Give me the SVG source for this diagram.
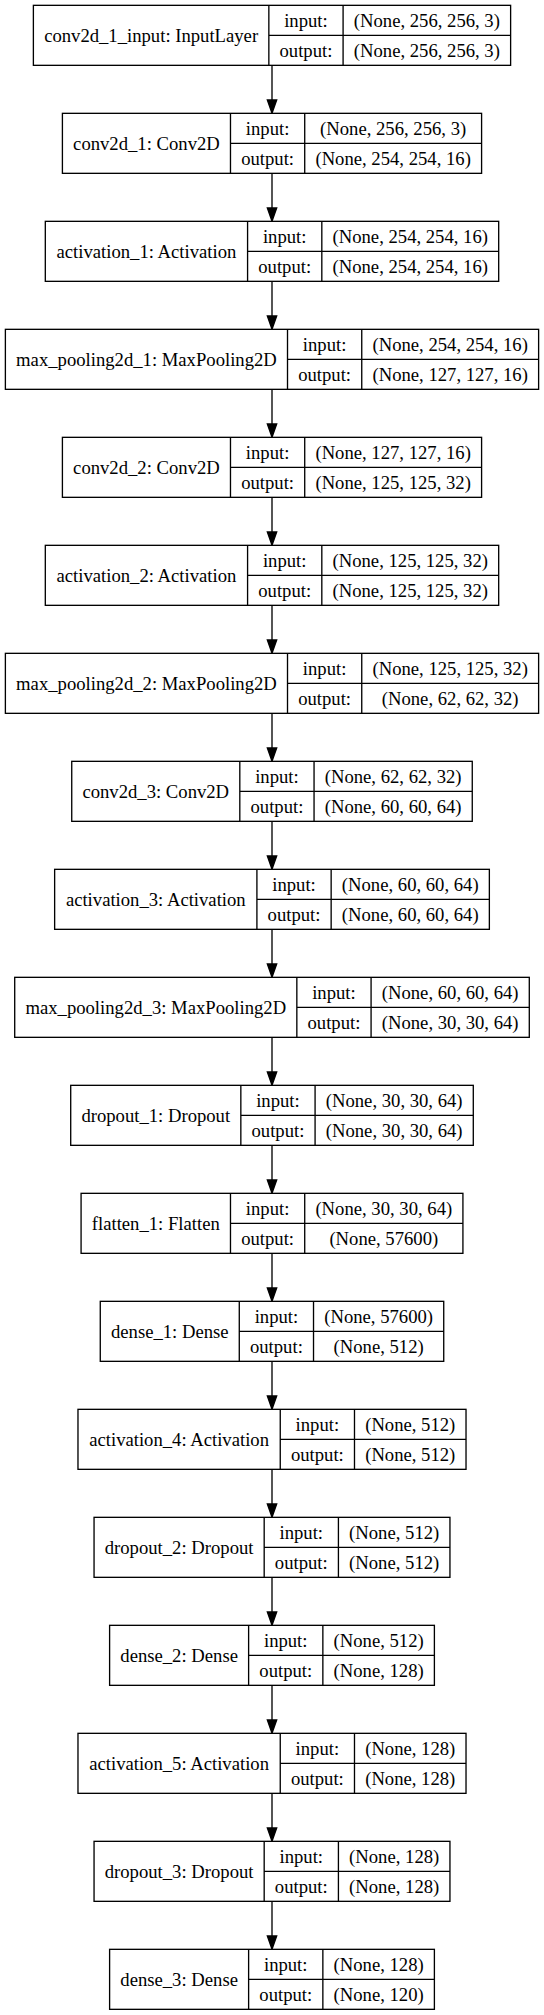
<svg xmlns="http://www.w3.org/2000/svg" width="544" height="2015" viewBox="0 0 544 2015">
<style>
.b{fill:#fff;stroke:#000;stroke-width:1.33}
.s{stroke:#000;stroke-width:1.33;fill:none}
text{font-family:"Liberation Serif","Times New Roman",serif;font-size:18.67px;fill:#000;text-anchor:middle}
.e{stroke:#000;stroke-width:1.33;fill:none;marker-end:url(#arr)}
</style>
<defs>
<marker id="arr" markerUnits="userSpaceOnUse" markerWidth="16" markerHeight="12" refX="0" refY="6" orient="auto" overflow="visible">
<path d="M0,1.33 L13.33,6 L0,10.67 Z" fill="#000" stroke="#000" stroke-width="1.33"/>
</marker>
</defs>
<rect width="544" height="2015" fill="#fff"/>
<g id="connectors">
<line class="e" x1="272" y1="65.33" x2="272" y2="100"/>
<line class="e" x1="272" y1="173.33" x2="272" y2="208"/>
<line class="e" x1="272" y1="281.33" x2="272" y2="316"/>
<line class="e" x1="272" y1="389.33" x2="272" y2="424"/>
<line class="e" x1="272" y1="497.33" x2="272" y2="532"/>
<line class="e" x1="272" y1="605.33" x2="272" y2="640"/>
<line class="e" x1="272" y1="713.33" x2="272" y2="748"/>
<line class="e" x1="272" y1="821.33" x2="272" y2="856"/>
<line class="e" x1="272" y1="929.33" x2="272" y2="964"/>
<line class="e" x1="272" y1="1037.33" x2="272" y2="1072"/>
<line class="e" x1="272" y1="1145.33" x2="272" y2="1180"/>
<line class="e" x1="272" y1="1253.33" x2="272" y2="1288"/>
<line class="e" x1="272" y1="1361.33" x2="272" y2="1396"/>
<line class="e" x1="272" y1="1469.33" x2="272" y2="1504"/>
<line class="e" x1="272" y1="1577.33" x2="272" y2="1612"/>
<line class="e" x1="272" y1="1685.33" x2="272" y2="1720"/>
<line class="e" x1="272" y1="1793.33" x2="272" y2="1828"/>
<line class="e" x1="272" y1="1901.33" x2="272" y2="1936"/>
</g>
<g id="conv2d_1_input" transform="translate(0,5.33)">
<rect class="b" x="33.38" y="0" width="477.24" height="60"/>
<path class="s" d="M268.85,0V60M343.09,0V60M268.85,30H510.62"/>
<text x="151.12" y="36.5">conv2d_1_input: InputLayer</text>
<text x="305.97" y="21.2">input:</text>
<text x="305.97" y="51.2">output:</text>
<text x="426.86" y="21.2">(None, 256, 256, 3)</text>
<text x="426.86" y="51.2">(None, 256, 256, 3)</text>
</g>
<g id="conv2d_1" transform="translate(0,113.33)">
<rect class="b" x="62.41" y="0" width="419.18" height="60"/>
<path class="s" d="M230.48,0V60M304.72,0V60M230.48,30H481.59"/>
<text x="146.45" y="36.5">conv2d_1: Conv2D</text>
<text x="267.6" y="21.2">input:</text>
<text x="267.6" y="51.2">output:</text>
<text x="393.16" y="21.2">(None, 256, 256, 3)</text>
<text x="393.16" y="51.2">(None, 254, 254, 16)</text>
</g>
<g id="activation_1" transform="translate(0,221.33)">
<rect class="b" x="45.31" y="0" width="453.38" height="60"/>
<path class="s" d="M247.58,0V60M321.82,0V60M247.58,30H498.69"/>
<text x="146.45" y="36.5">activation_1: Activation</text>
<text x="284.7" y="21.2">input:</text>
<text x="284.7" y="51.2">output:</text>
<text x="410.26" y="21.2">(None, 254, 254, 16)</text>
<text x="410.26" y="51.2">(None, 254, 254, 16)</text>
</g>
<g id="max_pooling2d_1" transform="translate(0,329.33)">
<rect class="b" x="5.38" y="0" width="533.24" height="60"/>
<path class="s" d="M287.51,0V60M361.75,0V60M287.51,30H538.62"/>
<text x="146.45" y="36.5">max_pooling2d_1: MaxPooling2D</text>
<text x="324.63" y="21.2">input:</text>
<text x="324.63" y="51.2">output:</text>
<text x="450.19" y="21.2">(None, 254, 254, 16)</text>
<text x="450.19" y="51.2">(None, 127, 127, 16)</text>
</g>
<g id="conv2d_2" transform="translate(0,437.33)">
<rect class="b" x="62.41" y="0" width="419.18" height="60"/>
<path class="s" d="M230.48,0V60M304.72,0V60M230.48,30H481.59"/>
<text x="146.45" y="36.5">conv2d_2: Conv2D</text>
<text x="267.6" y="21.2">input:</text>
<text x="267.6" y="51.2">output:</text>
<text x="393.16" y="21.2">(None, 127, 127, 16)</text>
<text x="393.16" y="51.2">(None, 125, 125, 32)</text>
</g>
<g id="activation_2" transform="translate(0,545.33)">
<rect class="b" x="45.31" y="0" width="453.38" height="60"/>
<path class="s" d="M247.58,0V60M321.82,0V60M247.58,30H498.69"/>
<text x="146.45" y="36.5">activation_2: Activation</text>
<text x="284.7" y="21.2">input:</text>
<text x="284.7" y="51.2">output:</text>
<text x="410.26" y="21.2">(None, 125, 125, 32)</text>
<text x="410.26" y="51.2">(None, 125, 125, 32)</text>
</g>
<g id="max_pooling2d_2" transform="translate(0,653.33)">
<rect class="b" x="5.38" y="0" width="533.24" height="60"/>
<path class="s" d="M287.51,0V60M361.75,0V60M287.51,30H538.62"/>
<text x="146.45" y="36.5">max_pooling2d_2: MaxPooling2D</text>
<text x="324.63" y="21.2">input:</text>
<text x="324.63" y="51.2">output:</text>
<text x="450.19" y="21.2">(None, 125, 125, 32)</text>
<text x="450.19" y="51.2">(None, 62, 62, 32)</text>
</g>
<g id="conv2d_3" transform="translate(0,761.33)">
<rect class="b" x="71.74" y="0" width="400.52" height="60"/>
<path class="s" d="M239.81,0V60M314.05,0V60M239.81,30H472.26"/>
<text x="155.78" y="36.5">conv2d_3: Conv2D</text>
<text x="276.93" y="21.2">input:</text>
<text x="276.93" y="51.2">output:</text>
<text x="393.16" y="21.2">(None, 62, 62, 32)</text>
<text x="393.16" y="51.2">(None, 60, 60, 64)</text>
</g>
<g id="activation_3" transform="translate(0,869.33)">
<rect class="b" x="54.64" y="0" width="434.72" height="60"/>
<path class="s" d="M256.91,0V60M331.15,0V60M256.91,30H489.36"/>
<text x="155.78" y="36.5">activation_3: Activation</text>
<text x="294.03" y="21.2">input:</text>
<text x="294.03" y="51.2">output:</text>
<text x="410.26" y="21.2">(None, 60, 60, 64)</text>
<text x="410.26" y="51.2">(None, 60, 60, 64)</text>
</g>
<g id="max_pooling2d_3" transform="translate(0,977.33)">
<rect class="b" x="14.71" y="0" width="514.58" height="60"/>
<path class="s" d="M296.84,0V60M371.08,0V60M296.84,30H529.29"/>
<text x="155.78" y="36.5">max_pooling2d_3: MaxPooling2D</text>
<text x="333.96" y="21.2">input:</text>
<text x="333.96" y="51.2">output:</text>
<text x="450.19" y="21.2">(None, 60, 60, 64)</text>
<text x="450.19" y="51.2">(None, 30, 30, 64)</text>
</g>
<g id="dropout_1" transform="translate(0,1085.33)">
<rect class="b" x="70.71" y="0" width="402.58" height="60"/>
<path class="s" d="M240.84,0V60M315.08,0V60M240.84,30H473.29"/>
<text x="155.78" y="36.5">dropout_1: Dropout</text>
<text x="277.96" y="21.2">input:</text>
<text x="277.96" y="51.2">output:</text>
<text x="394.19" y="21.2">(None, 30, 30, 64)</text>
<text x="394.19" y="51.2">(None, 30, 30, 64)</text>
</g>
<g id="flatten_1" transform="translate(0,1193.33)">
<rect class="b" x="81.08" y="0" width="381.84" height="60"/>
<path class="s" d="M230.48,0V60M304.72,0V60M230.48,30H462.92"/>
<text x="155.78" y="36.5">flatten_1: Flatten</text>
<text x="267.6" y="21.2">input:</text>
<text x="267.6" y="51.2">output:</text>
<text x="383.82" y="21.2">(None, 30, 30, 64)</text>
<text x="383.82" y="51.2">(None, 57600)</text>
</g>
<g id="dense_1" transform="translate(0,1301.33)">
<rect class="b" x="100.27" y="0" width="343.46" height="60"/>
<path class="s" d="M239.28,0V60M313.52,0V60M239.28,30H443.73"/>
<text x="169.78" y="36.5">dense_1: Dense</text>
<text x="276.4" y="21.2">input:</text>
<text x="276.4" y="51.2">output:</text>
<text x="378.63" y="21.2">(None, 57600)</text>
<text x="378.63" y="51.2">(None, 512)</text>
</g>
<g id="activation_4" transform="translate(0,1409.33)">
<rect class="b" x="77.98" y="0" width="388.04" height="60"/>
<path class="s" d="M280.25,0V60M354.49,0V60M280.25,30H466.02"/>
<text x="179.12" y="36.5">activation_4: Activation</text>
<text x="317.37" y="21.2">input:</text>
<text x="317.37" y="51.2">output:</text>
<text x="410.26" y="21.2">(None, 512)</text>
<text x="410.26" y="51.2">(None, 512)</text>
</g>
<g id="dropout_2" transform="translate(0,1517.33)">
<rect class="b" x="94.05" y="0" width="355.9" height="60"/>
<path class="s" d="M264.18,0V60M338.42,0V60M264.18,30H449.95"/>
<text x="179.12" y="36.5">dropout_2: Dropout</text>
<text x="301.3" y="21.2">input:</text>
<text x="301.3" y="51.2">output:</text>
<text x="394.19" y="21.2">(None, 512)</text>
<text x="394.19" y="51.2">(None, 512)</text>
</g>
<g id="dense_2" transform="translate(0,1625.33)">
<rect class="b" x="109.61" y="0" width="324.78" height="60"/>
<path class="s" d="M248.62,0V60M322.86,0V60M248.62,30H434.39"/>
<text x="179.12" y="36.5">dense_2: Dense</text>
<text x="285.74" y="21.2">input:</text>
<text x="285.74" y="51.2">output:</text>
<text x="378.63" y="21.2">(None, 512)</text>
<text x="378.63" y="51.2">(None, 128)</text>
</g>
<g id="activation_5" transform="translate(0,1733.33)">
<rect class="b" x="77.98" y="0" width="388.04" height="60"/>
<path class="s" d="M280.25,0V60M354.49,0V60M280.25,30H466.02"/>
<text x="179.12" y="36.5">activation_5: Activation</text>
<text x="317.37" y="21.2">input:</text>
<text x="317.37" y="51.2">output:</text>
<text x="410.26" y="21.2">(None, 128)</text>
<text x="410.26" y="51.2">(None, 128)</text>
</g>
<g id="dropout_3" transform="translate(0,1841.33)">
<rect class="b" x="94.05" y="0" width="355.9" height="60"/>
<path class="s" d="M264.18,0V60M338.42,0V60M264.18,30H449.95"/>
<text x="179.12" y="36.5">dropout_3: Dropout</text>
<text x="301.3" y="21.2">input:</text>
<text x="301.3" y="51.2">output:</text>
<text x="394.19" y="21.2">(None, 128)</text>
<text x="394.19" y="51.2">(None, 128)</text>
</g>
<g id="dense_3" transform="translate(0,1949.33)">
<rect class="b" x="109.61" y="0" width="324.78" height="60"/>
<path class="s" d="M248.62,0V60M322.86,0V60M248.62,30H434.39"/>
<text x="179.12" y="36.5">dense_3: Dense</text>
<text x="285.74" y="21.2">input:</text>
<text x="285.74" y="51.2">output:</text>
<text x="378.63" y="21.2">(None, 128)</text>
<text x="378.63" y="51.2">(None, 120)</text>
</g>
</svg>
